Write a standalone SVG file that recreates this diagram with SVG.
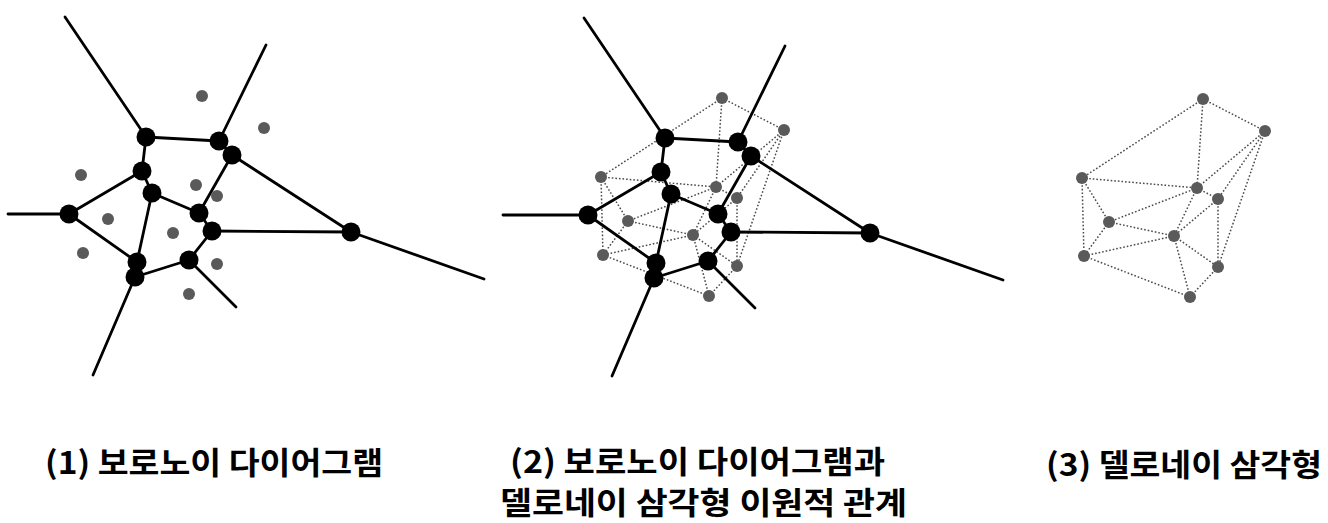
<svg xmlns="http://www.w3.org/2000/svg" xmlns:xlink="http://www.w3.org/1999/xlink" width="1328" height="523" viewBox="0 0 1328 523">
<style>
.vor{stroke:#000;stroke-width:2.8;fill:none;stroke-linecap:round}
.del{stroke:#4a4a4a;stroke-width:1.5;fill:none;stroke-dasharray:1.6 2}
.vtx{fill:#000}
.site{fill:#5a5a5a}
.lbl{font-family:"Noto Sans CJK KR","Noto Sans",sans-serif;font-weight:700;font-size:31px;fill:#000}
</style>
<defs>
<g id="voronoiEdges">
<line x1="65" y1="17" x2="146" y2="137"/>
<line x1="146" y1="137" x2="219" y2="141"/>
<line x1="146" y1="137" x2="142" y2="171"/>
<line x1="219" y1="141" x2="266" y2="45"/>
<line x1="219" y1="141" x2="232" y2="155"/>
<line x1="232" y1="155" x2="351" y2="232"/>
<line x1="351" y1="232" x2="484" y2="279"/>
<line x1="212" y1="231" x2="351" y2="232"/>
<line x1="232" y1="155" x2="199" y2="213"/>
<line x1="142" y1="171" x2="152" y2="193"/>
<line x1="142" y1="171" x2="69" y2="214"/>
<line x1="152" y1="193" x2="199" y2="213"/>
<line x1="152" y1="193" x2="137" y2="262"/>
<line x1="69" y1="214" x2="137" y2="262"/>
<line x1="199" y1="213" x2="212" y2="231"/>
<line x1="212" y1="231" x2="189" y2="260"/>
<line x1="189" y1="260" x2="135" y2="277"/>
<line x1="189" y1="260" x2="236" y2="307"/>
<line x1="135" y1="277" x2="93" y2="375"/>
<line x1="137" y1="262" x2="135" y2="277"/>
</g>
<g id="delaunayEdges">
<line x1="202" y1="96" x2="264" y2="128"/>
<line x1="202" y1="96" x2="81" y2="175"/>
<line x1="202" y1="96" x2="196" y2="185"/>
<line x1="81" y1="175" x2="196" y2="185"/>
<line x1="81" y1="175" x2="108" y2="219"/>
<line x1="81" y1="175" x2="83" y2="253"/>
<line x1="264" y1="128" x2="196" y2="185"/>
<line x1="264" y1="128" x2="217" y2="196"/>
<line x1="264" y1="128" x2="217" y2="264"/>
<line x1="196" y1="185" x2="108" y2="219"/>
<line x1="196" y1="185" x2="173" y2="233"/>
<line x1="217" y1="196" x2="173" y2="233"/>
<line x1="108" y1="219" x2="173" y2="233"/>
<line x1="108" y1="219" x2="83" y2="253"/>
<line x1="173" y1="233" x2="83" y2="253"/>
<line x1="173" y1="233" x2="217" y2="264"/>
<line x1="173" y1="233" x2="189" y2="294"/>
<line x1="83" y1="253" x2="189" y2="294"/>
<line x1="217" y1="264" x2="189" y2="294"/>
<line x1="196" y1="185" x2="217" y2="196"/>
<line x1="217" y1="196" x2="217" y2="264"/>
</g>
<circle id="vdot" r="9.5" class="vtx"/>
<circle id="sdot" r="6" class="site"/>
</defs>

<!-- Panel 1: Voronoi diagram -->
<g id="panel1">
<g id="p1-connectors" class="vor">
<use xlink:href="#voronoiEdges"/>
<line x1="8" y1="214" x2="69" y2="214"/>
</g>
<g id="p1-vertices">
<g id="p1-vA"><use xlink:href="#vdot" x="146" y="137"/></g>
<g id="p1-vB"><use xlink:href="#vdot" x="219" y="141"/></g>
<g id="p1-vC"><use xlink:href="#vdot" x="232" y="155"/></g>
<g id="p1-vD"><use xlink:href="#vdot" x="142" y="171"/></g>
<g id="p1-vE"><use xlink:href="#vdot" x="152" y="193"/></g>
<g id="p1-vF"><use xlink:href="#vdot" x="69" y="214"/></g>
<g id="p1-vG"><use xlink:href="#vdot" x="199" y="213"/></g>
<g id="p1-vH"><use xlink:href="#vdot" x="212" y="231"/></g>
<g id="p1-vI"><use xlink:href="#vdot" x="189" y="260"/></g>
<g id="p1-vJ1"><use xlink:href="#vdot" x="137" y="262"/></g>
<g id="p1-vJ2"><use xlink:href="#vdot" x="135" y="277"/></g>
<g id="p1-vK"><use xlink:href="#vdot" x="351" y="232"/></g>
</g>
<g id="p1-sites">
<g id="p1-s1"><use xlink:href="#sdot" x="202" y="96"/></g>
<g id="p1-s2"><use xlink:href="#sdot" x="264" y="128"/></g>
<g id="p1-s3"><use xlink:href="#sdot" x="81" y="175"/></g>
<g id="p1-s4"><use xlink:href="#sdot" x="196" y="185"/></g>
<g id="p1-s5"><use xlink:href="#sdot" x="217" y="196"/></g>
<g id="p1-s6"><use xlink:href="#sdot" x="108" y="219"/></g>
<g id="p1-s7"><use xlink:href="#sdot" x="173" y="233"/></g>
<g id="p1-s8"><use xlink:href="#sdot" x="83" y="253"/></g>
<g id="p1-s9"><use xlink:href="#sdot" x="217" y="264"/></g>
<g id="p1-s10"><use xlink:href="#sdot" x="189" y="294"/></g>
</g>
</g>

<!-- Panel 2: Voronoi + Delaunay duality -->
<g id="panel2">
<g id="p2-connectors">
<g class="del" transform="translate(520,2)"><use xlink:href="#delaunayEdges"/></g>
<g class="vor" transform="translate(519,1)">
<use xlink:href="#voronoiEdges"/>
<line x1="-16" y1="214" x2="69" y2="214"/>
</g>
</g>
<g id="p2-vertices" transform="translate(519,1)">
<g id="p2-vA"><use xlink:href="#vdot" x="146" y="137"/></g>
<g id="p2-vB"><use xlink:href="#vdot" x="219" y="141"/></g>
<g id="p2-vC"><use xlink:href="#vdot" x="232" y="155"/></g>
<g id="p2-vD"><use xlink:href="#vdot" x="142" y="171"/></g>
<g id="p2-vE"><use xlink:href="#vdot" x="152" y="193"/></g>
<g id="p2-vF"><use xlink:href="#vdot" x="69" y="214"/></g>
<g id="p2-vG"><use xlink:href="#vdot" x="199" y="213"/></g>
<g id="p2-vH"><use xlink:href="#vdot" x="212" y="231"/></g>
<g id="p2-vI"><use xlink:href="#vdot" x="189" y="260"/></g>
<g id="p2-vJ1"><use xlink:href="#vdot" x="137" y="262"/></g>
<g id="p2-vJ2"><use xlink:href="#vdot" x="135" y="277"/></g>
<g id="p2-vK"><use xlink:href="#vdot" x="351" y="232"/></g>
</g>
<g id="p2-sites" transform="translate(520,2)">
<g id="p2-s1"><use xlink:href="#sdot" x="202" y="96"/></g>
<g id="p2-s2"><use xlink:href="#sdot" x="264" y="128"/></g>
<g id="p2-s3"><use xlink:href="#sdot" x="81" y="175"/></g>
<g id="p2-s4"><use xlink:href="#sdot" x="196" y="185"/></g>
<g id="p2-s5"><use xlink:href="#sdot" x="217" y="196"/></g>
<g id="p2-s6"><use xlink:href="#sdot" x="108" y="219"/></g>
<g id="p2-s7"><use xlink:href="#sdot" x="173" y="233"/></g>
<g id="p2-s8"><use xlink:href="#sdot" x="83" y="253"/></g>
<g id="p2-s9"><use xlink:href="#sdot" x="217" y="264"/></g>
<g id="p2-s10"><use xlink:href="#sdot" x="189" y="294"/></g>
</g>
</g>

<!-- Panel 3: Delaunay triangulation -->
<g id="panel3">
<g id="p3-connectors" class="del" transform="translate(1001,3)"><use xlink:href="#delaunayEdges"/></g>
<g id="p3-sites" transform="translate(1001,3)">
<g id="p3-s1"><use xlink:href="#sdot" x="202" y="96"/></g>
<g id="p3-s2"><use xlink:href="#sdot" x="264" y="128"/></g>
<g id="p3-s3"><use xlink:href="#sdot" x="81" y="175"/></g>
<g id="p3-s4"><use xlink:href="#sdot" x="196" y="185"/></g>
<g id="p3-s5"><use xlink:href="#sdot" x="217" y="196"/></g>
<g id="p3-s6"><use xlink:href="#sdot" x="108" y="219"/></g>
<g id="p3-s7"><use xlink:href="#sdot" x="173" y="233"/></g>
<g id="p3-s8"><use xlink:href="#sdot" x="83" y="253"/></g>
<g id="p3-s9"><use xlink:href="#sdot" x="217" y="264"/></g>
<g id="p3-s10"><use xlink:href="#sdot" x="189" y="294"/></g>
</g>
</g>

<!-- Captions -->
<g id="captions">
<text class="lbl" x="45" y="474" textLength="338" lengthAdjust="spacingAndGlyphs">(1) 보로노이 다이어그램</text>
<text class="lbl" x="510" y="473" textLength="375" lengthAdjust="spacingAndGlyphs">(2) 보로노이 다이어그램과</text>
<text class="lbl" x="500" y="514" textLength="407" lengthAdjust="spacingAndGlyphs">델로네이 삼각형 이원적 관계</text>
<text class="lbl" x="1046" y="476" textLength="276" lengthAdjust="spacingAndGlyphs">(3) 델로네이 삼각형</text>
</g>
</svg>
